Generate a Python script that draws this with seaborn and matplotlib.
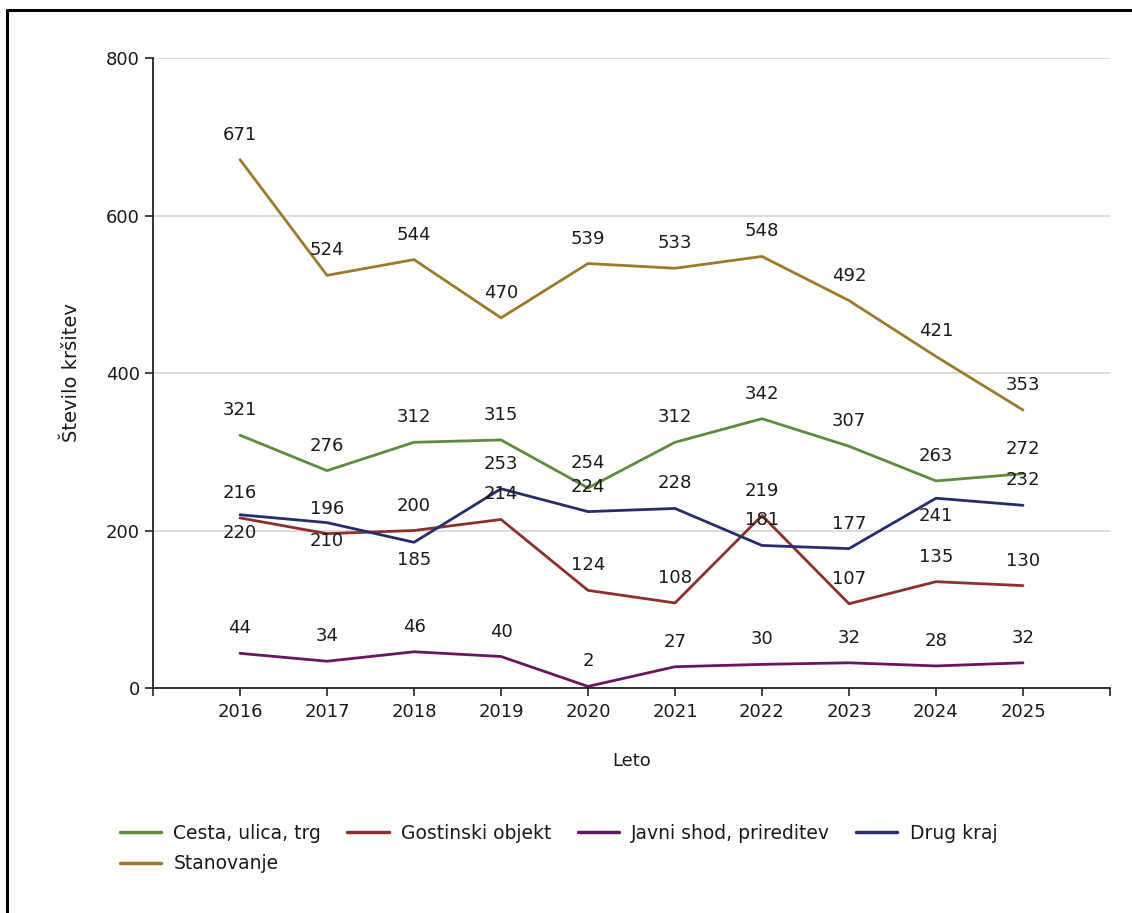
import matplotlib
matplotlib.use('Agg')
import matplotlib.pyplot as plt
import seaborn as sns
import pandas as pd
from matplotlib.lines import Line2D

# Data
years = [2016, 2017, 2018, 2019, 2020, 2021, 2022, 2023, 2024, 2025]
cesta = [321, 276, 312, 315, 254, 312, 342, 307, 263, 272]
gostinski = [216, 196, 200, 214, 124, 108, 219, 107, 135, 130]
javni = [44, 34, 46, 40, 2, 27, 30, 32, 28, 32]
drug_kraj = [220, 210, 185, 253, 224, 228, 181, 177, 241, 232]
stanovanje = [671, 524, 544, 470, 539, 533, 548, 492, 421, 353]

series_names = ['Cesta, ulica, trg', 'Gostinski objekt', 'Javni shod, prireditev',
                'Drug kraj', 'Stanovanje']
series_values = [cesta, gostinski, javni, drug_kraj, stanovanje]
colors = ['#5F8B3D', '#8C2F2D', '#6A1563', '#252D6D', '#9D7A2B']

# label placement: 1 = above point, -1 = below
label_side = {
    'Drug kraj': [-1, -1, -1, 1, 1, 1, 1, 1, -1, 1],
}

df = pd.DataFrame({
    'Leto': years * len(series_names),
    'Vrednost': sum(series_values, []),
    'Serija': [n for n in series_names for _ in years],
})

sns.set_style('white')
plt.rcParams['font.family'] = ['DejaVu Sans']

fig = plt.figure(figsize=(11.32, 9.13), dpi=100)
ax = fig.add_axes([153 / 1132, 1 - 688 / 913, (1110 - 153) / 1132, (688 - 58) / 913])

sns.lineplot(data=df, x='Leto', y='Vrednost', hue='Serija', hue_order=series_names,
             palette=colors, linewidth=2.0, ax=ax, legend=False)

fs = 13
for name, vals in zip(series_names, series_values):
    sides = label_side.get(name, [1] * len(vals))
    for x, v, s in zip(years, vals, sides):
        off = 18 if s > 0 else -13
        ax.annotate(str(v), (x, v), xytext=(0, off), textcoords='offset points',
                    ha='center', va='center', fontsize=fs, color='#1a1a1a')

ax.set_xlim(2015, 2026)
ax.set_ylim(0, 800)
ax.set_xticks(range(2015, 2027))
ax.set_xticklabels([''] + [str(y) for y in years] + [''])
ax.set_yticks([0, 200, 400, 600, 800])
ax.tick_params(axis='both', direction='out', length=6, width=1.2, color='#222222',
               labelsize=fs, labelcolor='#1a1a1a', bottom=True, left=True)
ax.tick_params(axis='x', pad=5)
ax.yaxis.grid(True, color='#d9d9d9', linewidth=1.3)
ax.xaxis.grid(False)
for side in ['top', 'right']:
    ax.spines[side].set_visible(False)
for side in ['left', 'bottom']:
    ax.spines[side].set_color('#222222')
    ax.spines[side].set_linewidth(1.3)

ax.set_xlabel('Leto', fontsize=fs, color='#1a1a1a', labelpad=22)
ax.set_ylabel('Število kršitev', fontsize=14, color='#1a1a1a', labelpad=18)

# legend, row-major order
handles = [Line2D([], [], color=c, linewidth=2.5) for c in colors]
order = [0, 4, 1, 2, 3]
fig.legend([handles[i] for i in order], [series_names[i] for i in order],
           loc='upper left', bbox_to_anchor=(103 / 1132, 1 - 807 / 913), ncol=4,
           frameon=False, fontsize=13.5, handlelength=2.2, columnspacing=1.4,
           handletextpad=0.65, labelspacing=0.6, labelcolor='#1a1a1a')

# outer frame (top and left edges)
fig.add_artist(Line2D([7 / 1132, 1], [1 - 10 / 913, 1 - 10 / 913], color='black',
                      linewidth=2.2, transform=fig.transFigure))
fig.add_artist(Line2D([7 / 1132, 7 / 1132], [0, 1 - 10 / 913], color='black',
                      linewidth=2.2, transform=fig.transFigure))

fig.savefig('out.png', dpi=100)
